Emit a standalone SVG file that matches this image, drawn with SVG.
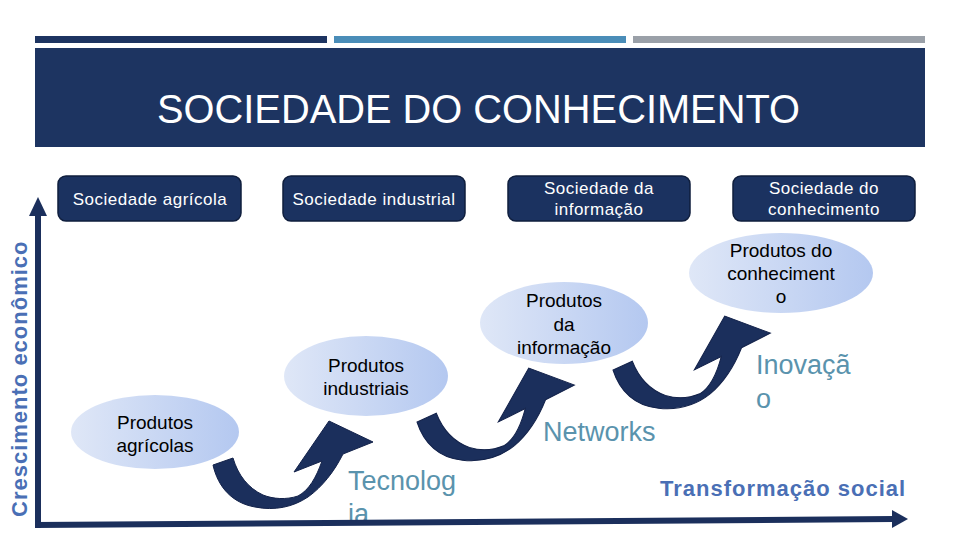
<svg xmlns="http://www.w3.org/2000/svg" xmlns:xlink="http://www.w3.org/1999/xlink" width="960" height="540" viewBox="0 0 960 540">
<defs>
<style>
.hdr{fill:#1b3260;stroke:#0f1e3d;stroke-width:1.5}
.hdrt{font-family:"Liberation Sans",Arial,sans-serif;font-size:17px;letter-spacing:0.5px;fill:#ffffff;text-anchor:middle}
.ell{fill:url(#eg)}
.et{font-family:"Liberation Sans",Arial,sans-serif;font-size:19px;fill:#000000;text-anchor:middle}
.lbl{font-family:"Liberation Sans",Arial,sans-serif;font-size:27px;fill:#5a93ad}
.axl{font-family:"Liberation Sans",Arial,sans-serif;font-size:22px;font-weight:bold;fill:#4a6fb5;letter-spacing:1px}
.arr{fill:#1b2f5c;stroke:#13224a;stroke-width:1}
.axis{fill:#1b2f5c}
</style>
<linearGradient id="eg" x1="0" y1="0" x2="1" y2="0">
<stop offset="0" stop-color="#dfe7f7"/>
<stop offset="1" stop-color="#b4c8f0"/>
</linearGradient>
<path id="carrow" class="arr" d="M213,465 C218,487 232,503 255,507 C275,511 293,507 308,497 C322,487 334,472 343,454 L373,442 L329,421 L294,472 L322,461 C316,478 309,490 298,496 C286,500 273,499 263,495 C248,488 238,475 233,458 Z"/>
</defs>
<rect width="960" height="540" fill="#ffffff"/>
<g id="header-bars">
<rect x="35" y="36" width="292" height="7" fill="#1d3461"/>
<rect x="334" y="36" width="292" height="7" fill="#4a8db8"/>
<rect x="633" y="36" width="292" height="7" fill="#9aa0a8"/>
</g>
<g id="title">
<rect x="35" y="48" width="890" height="99" fill="#1d3461"/>
<text x="157" y="123" font-family="Liberation Sans, Arial, sans-serif" font-size="41" fill="#ffffff" textLength="643" lengthAdjust="spacingAndGlyphs">SOCIEDADE DO CONHECIMENTO</text>
</g>
<g id="connectors">
<use xlink:href="#carrow"/>
<use xlink:href="#carrow" transform="translate(417,422) rotate(-5) translate(-213,-465)"/>
<use xlink:href="#carrow" transform="translate(613,370) rotate(-5) translate(-213,-465)"/>
</g>
<g id="label-tecnologia">
<text class="lbl" x="348" y="490">Tecnolog</text>
<text class="lbl" x="348" y="523">ia</text>
</g>
<g id="axes">
<rect x="35" y="212" width="6" height="316" class="axis"/>
<polygon class="axis" points="38,197 47,216 29,216"/>
<polygon class="axis" points="35,522 894,516 894,522 35,528"/>
<polygon class="axis" points="908,519 892,510 892,528"/>
</g>
<g id="label-crescimento">
<text class="axl" transform="translate(27,517) rotate(-90)">Crescimento econômico</text>
</g>
<g id="label-transformacao">
<text class="axl" x="660" y="496">Transformação social</text>
</g>
<g id="label-networks">
<text class="lbl" x="543" y="441">Networks</text>
</g>
<g id="label-inovacao">
<text class="lbl" x="756" y="374">Inovaçã</text>
<text class="lbl" x="756" y="408">o</text>
</g>
<g id="hdr-agricola">
<rect class="hdr" x="58" y="176" width="183" height="45" rx="8"/>
<text class="hdrt" x="150" y="205">Sociedade agrícola</text>
</g>
<g id="hdr-industrial">
<rect class="hdr" x="283" y="176" width="182" height="45" rx="8"/>
<text class="hdrt" x="374" y="205">Sociedade industrial</text>
</g>
<g id="hdr-informacao">
<rect class="hdr" x="508" y="176" width="182" height="45" rx="8"/>
<text class="hdrt" x="599" y="194">Sociedade da</text>
<text class="hdrt" x="599" y="215">informação</text>
</g>
<g id="hdr-conhecimento">
<rect class="hdr" x="733" y="176" width="182" height="45" rx="8"/>
<text class="hdrt" x="824" y="194">Sociedade do</text>
<text class="hdrt" x="824" y="215">conhecimento</text>
</g>
<g id="prod-agricolas">
<ellipse class="ell" cx="155" cy="432" rx="84" ry="37"/>
<text class="et" x="155" y="429">Produtos</text>
<text class="et" x="155" y="452">agrícolas</text>
</g>
<g id="prod-industriais">
<ellipse class="ell" cx="366" cy="376" rx="82" ry="40"/>
<text class="et" x="366" y="372">Produtos</text>
<text class="et" x="366" y="395">industriais</text>
</g>
<g id="prod-informacao">
<ellipse class="ell" cx="564" cy="323" rx="84" ry="41"/>
<text class="et" x="564" y="307">Produtos</text>
<text class="et" x="564" y="331">da</text>
<text class="et" x="564" y="354">informação</text>
</g>
<g id="prod-conhecimento">
<ellipse class="ell" cx="781" cy="273" rx="92" ry="40"/>
<text class="et" x="781" y="257">Produtos do</text>
<text class="et" x="781" y="280">conheciment</text>
<text class="et" x="781" y="303">o</text>
</g>
</svg>
